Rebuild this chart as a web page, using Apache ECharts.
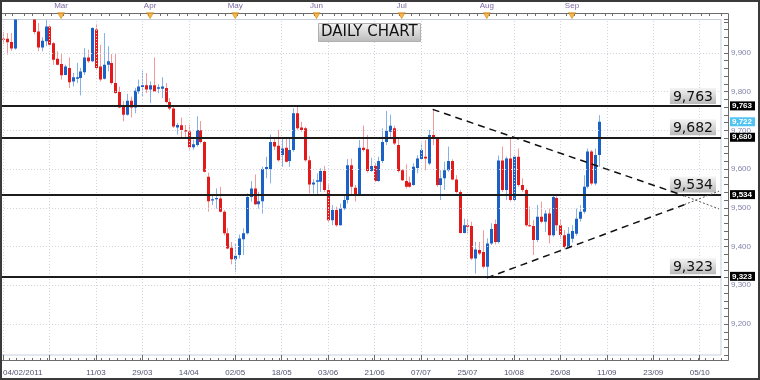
<!DOCTYPE html>
<html><head><meta charset="utf-8">
<script src="https://cdn.jsdelivr.net/npm/echarts@6/dist/echarts.min.js"></script>
<style>html,body{margin:0;padding:0;background:#fff}#c{width:760px;height:380px}</style>
</head><body><div id="c"></div>
<script>
// ---- data ----
const opens = [9936,9936,9928,9911,9995,10010,10025,10015,9990,9955,9914,9930,9968,9925,9885,9871,9843,9861,9826,9833,9835,9850,9888,9878,9960,9865,9833,9869,9874,9822,9799,9762,9740,9776,9759,9800,9812,9816,9805,9816,9807,9807,9809,9773,9756,9707,9713,9701,9697,9656,9662,9700,9670,9580,9519,9522,9524,9490,9434,9397,9367,9378,9419,9434,9528,9550,9509,9517,9600,9600,9670,9660,9636,9655,9621,9649,9744,9707,9705,9623,9560,9567,9567,9595,9546,9468,9494,9455,9498,9520,9610,9552,9534,9655,9651,9595,9608,9569,9621,9670,9696,9705,9662,9597,9569,9565,9559,9603,9626,9632,9614,9688,9679,9559,9576,9597,9621,9573,9541,9435,9455,9453,9369,9391,9386,9348,9408,9458,9412,9622,9546,9627,9520,9632,9559,9546,9455,9453,9417,9477,9464,9485,9429,9525,9455,9429,9399,9420,9433,9472,9490,9554,9645,9563,9636];
const closes = [9934,9927,9911,9995,10010,10025,10015,10000,9954,9914,9931,9968,9921,9882,9869,9842,9865,9824,9837,9837,9852,9888,9878,9964,9861,9831,9869,9878,9822,9796,9759,9740,9776,9759,9802,9813,9816,9805,9816,9800,9811,9813,9773,9756,9710,9714,9701,9697,9656,9664,9701,9670,9593,9517,9522,9525,9490,9434,9395,9367,9376,9421,9434,9528,9550,9509,9517,9600,9605,9670,9658,9623,9653,9619,9649,9744,9705,9701,9623,9560,9565,9571,9595,9546,9468,9494,9455,9498,9520,9610,9554,9534,9655,9649,9595,9608,9569,9621,9670,9698,9712,9666,9595,9571,9554,9554,9606,9627,9649,9627,9688,9679,9559,9576,9597,9621,9573,9541,9435,9455,9451,9369,9392,9382,9348,9408,9445,9412,9622,9546,9627,9520,9632,9559,9546,9455,9453,9417,9477,9464,9485,9429,9528,9455,9430,9399,9433,9440,9472,9490,9554,9645,9563,9636,9722];
const lows = [9923,9895,9905,9908,9984,10000,10005,9992,9948,9904,9904,9917,9917,9869,9868,9831,9842,9809,9813,9822,9790,9843,9874,9876,9859,9826,9831,9852,9818,9794,9757,9723,9738,9733,9744,9794,9787,9796,9770,9799,9796,9783,9770,9752,9706,9689,9682,9678,9650,9650,9658,9666,9591,9490,9507,9498,9488,9429,9393,9354,9335,9369,9378,9431,9516,9507,9498,9485,9576,9563,9649,9619,9606,9617,9606,9645,9701,9696,9619,9537,9537,9533,9541,9541,9464,9455,9451,9454,9494,9511,9533,9516,9533,9645,9591,9593,9567,9567,9615,9662,9680,9662,9591,9569,9550,9552,9557,9589,9623,9597,9610,9662,9554,9520,9546,9593,9571,9537,9434,9434,9434,9365,9330,9378,9343,9318,9404,9405,9408,9541,9520,9516,9518,9554,9541,9451,9451,9378,9412,9460,9438,9408,9425,9440,9420,9395,9395,9410,9428,9464,9485,9550,9558,9558,9606];
const highs = [9954,9951,9951,10005,10025,10035,10040,10030,9995,9977,9940,9985,9970,9928,9904,9899,9869,9888,9848,9874,9861,9912,9908,9966,9975,9921,9951,9917,9897,9897,9813,9775,9794,9787,9809,9831,9854,9848,9826,9888,9819,9837,9822,9783,9762,9719,9733,9714,9714,9676,9736,9724,9672,9591,9533,9550,9554,9494,9448,9412,9408,9431,9447,9537,9569,9586,9541,9606,9632,9689,9679,9701,9679,9679,9679,9757,9761,9722,9709,9634,9574,9589,9602,9608,9560,9507,9503,9511,9534,9626,9627,9559,9675,9712,9688,9629,9615,9632,9705,9750,9740,9712,9680,9600,9612,9580,9615,9636,9666,9675,9701,9754,9683,9597,9619,9658,9625,9584,9546,9472,9472,9464,9412,9412,9442,9421,9460,9470,9635,9658,9632,9683,9636,9653,9576,9550,9503,9468,9507,9516,9494,9498,9533,9530,9470,9442,9450,9455,9498,9507,9584,9653,9649,9653,9739];

const tickLabels = ['04/02/2011','','11/03','29/03','14/04','02/05','18/05','03/06','21/06','07/07','25/07','10/08','26/08','11/09','23/09','05/10'];
const monthLabels = ['Mar','Apr','May','Jun','Jul','Aug','Sep'];
const monthIndex = [15,38,60,81,103,125,147];
const yTicks = [9200,9300,9400,9500,9600,9700,9800,9900];
const levelValues = [9763,9682,9534,9323];
const levelLabels = ['9,763','9,682','9,534','9,323'];
const levelTags = ['9,763','9,680','9,534','9,323'];
const trendUpperDashed = [[111,9754],[176,9531]];
const trendUpperDotted = [[176,9531],[185,9497]];
const trendLowerDashed = [[125,9319],[176,9508]];
const trendLowerDotted = [[176,9508],[185,9543]];

// ---- chart ----
const N = 186;
const TICK_STEP = 12;
const categories = Array.from({length: N}, (_, i) => String(i));
const yMin = 9120, yMax = 9986;
const fmt = v => Number(v).toLocaleString('en-US');
const candleData = opens.map((o, i) => [i, o, closes[i], lows[i], highs[i]]);
const lastClose = closes[closes.length - 1];

const UP = '#1a62c8', UP_W = '#86b2ea', DN = '#e21a1a', DN_W = '#f29a9a';

function renderCandle(params, api) {
  const i = api.value(0), o = api.value(1), c = api.value(2), l = api.value(3), h = api.value(4);
  const pO = api.coord([i, o]), pC = api.coord([i, c]), pL = api.coord([i, l]), pH = api.coord([i, h]);
  const x = Math.round(pO[0]);
  const up = c >= o;
  const top = Math.min(pO[1], pC[1]), bot = Math.max(pO[1], pC[1]);
  return {type: 'group', children: [
    {type: 'line', shape: {x1: x + 0.5, y1: pH[1], x2: x + 0.5, y2: pL[1]}, style: {stroke: up ? UP_W : DN_W, lineWidth: 1}},
    {type: 'rect', shape: {x: x - 1, y: top, width: 3, height: Math.max(bot - top, 1)}, style: {fill: up ? UP : DN}}
  ]};
}

const grayGrad = {type: 'linear', x: 0, y: 0, x2: 0, y2: 1, colorStops: [{offset: 0, color: '#f4f4f4'}, {offset: 1, color: '#bababa'}]};
const FONT = 'Liberation Sans';
const tagLabel = (text, bg) => ({show: true, position: 'end', distance: 9, formatter: text, fontFamily: FONT, fontSize: 8,
  fontWeight: 'bold', color: '#fff', backgroundColor: bg, padding: [1, 3, 0, 2]});
const RULER = '#6c6c6c';

const chart = echarts.init(document.getElementById('c'));
chart.setOption({
  animation: false,
  backgroundColor: '#ffffff',
  title: {
    text: 'DAILY CHART', left: 318, top: 23, padding: [2, 3],
    backgroundColor: grayGrad, borderColor: '#b0b0b0', borderWidth: 1,
    textStyle: {fontFamily: 'DejaVu Sans', fontSize: 15, fontWeight: 'normal', color: '#111'}
  },
  grid: {left: 1, right: 39, top: 19.5, bottom: 25, show: true, borderColor: '#c6cedc', borderWidth: 1},
  xAxis: [
    {type: 'category', data: categories, position: 'bottom', offset: 5,
      axisLine: {show: true, lineStyle: {color: RULER}},
      axisTick: {show: true, inside: true, length: 2, interval: i => i % 2 === 0, lineStyle: {color: RULER}},
      axisLabel: {show: false}, splitLine: {show: false}},
    {type: 'category', data: categories, position: 'bottom', offset: 5,
      axisLine: {show: false},
      axisTick: {show: true, inside: true, alignWithLabel: true, length: 5, interval: i => i % TICK_STEP === 0, lineStyle: {color: RULER}},
      axisLabel: {show: true, interval: i => i % TICK_STEP === 0, formatter: (v, i) => tickLabels[i / TICK_STEP] || '',
        margin: 9, fontSize: 8, fontFamily: FONT, color: '#545470', alignMinLabel: 'left'},
      splitLine: {show: false}},
    {type: 'category', data: categories, position: 'top', offset: 6.5,
      axisLine: {show: true, lineStyle: {color: RULER}},
      axisTick: {show: true, inside: true, length: 3, interval: i => i % 5 === 1 || i % 5 === 3, lineStyle: {color: RULER}},
      axisLabel: {show: true, interval: i => monthIndex.includes(i), formatter: (v, i) => monthLabels[monthIndex.indexOf(i)] || '',
        margin: 3, fontSize: 8, fontFamily: FONT, color: '#7d6aa6'},
      splitLine: {show: false}}
  ],
  yAxis: {
    type: 'value', position: 'right', min: yMin, max: yMax, interval: 20, offset: 7,
    axisLine: {show: true, lineStyle: {color: RULER}},
    axisTick: {show: true, inside: true, length: 4, lineStyle: {color: RULER}},
    axisLabel: {formatter: v => (v % 100 === 0 ? fmt(v) : ''), margin: 3, fontSize: 8, fontFamily: FONT, color: '#8282aa'},
    splitLine: {show: false}
  },
  series: [
    {type: 'line', xAxisIndex: 0, data: [], silent: true, z: 1, clip: false,
      markLine: {symbol: ['none', 'none'], silent: true, animation: false, label: {show: false},
        lineStyle: {color: '#d2d2dc', type: [1, 2], width: 1},
        data: yTicks.map(v => ({yAxis: v})).concat(tickLabels.map((t, k) => ({xAxis: k * TICK_STEP})))}},
    {type: 'custom', xAxisIndex: 0, renderItem: renderCandle, data: candleData, clip: true, z: 3,
      encode: {x: 0, y: [1, 2, 3, 4]}},
    {type: 'line', xAxisIndex: 0, data: [], silent: true, z: 4, clip: false,
      markLine: {symbol: ['none', 'none'], silent: true, animation: false,
        lineStyle: {color: '#1c1c1c', type: 'solid', width: 2},
        data: levelValues.map((v, k) => ({yAxis: v, label: tagLabel(levelTags[k], '#000')}))
          .concat([{yAxis: lastClose, lineStyle: {color: 'rgba(255,255,255,0)', width: 1}, label: tagLabel(fmt(lastClose), '#52c4f2')}])}},
    {type: 'line', xAxisIndex: 0, data: [], silent: true, z: 5, clip: false,
      markLine: {symbol: ['none', 'none'], silent: true, animation: false,
        lineStyle: {color: '#1c1c1c', type: 'solid', width: 2},
        label: {show: true, position: 'insideEndTop', distance: [5, 2], fontFamily: 'DejaVu Sans', fontSize: 14, color: '#111',
          backgroundColor: grayGrad, padding: [2, 3, 0, 3]},
        data: levelValues.map((v, k) => ({yAxis: v, label: {formatter: levelLabels[k]}}))}},
    {type: 'line', xAxisIndex: 0, data: trendUpperDashed, symbol: 'none', silent: true, z: 5,
      lineStyle: {color: '#111', width: 1.5, type: [7, 5]}},
    {type: 'line', xAxisIndex: 0, data: trendLowerDashed, symbol: 'none', silent: true, z: 5,
      lineStyle: {color: '#111', width: 1.5, type: [7, 5]}},
    {type: 'line', xAxisIndex: 0, data: trendUpperDotted, symbol: 'none', silent: true, z: 5,
      lineStyle: {color: '#555', width: 1, type: [2, 2]}},
    {type: 'line', xAxisIndex: 0, data: trendLowerDotted, symbol: 'none', silent: true, z: 5,
      lineStyle: {color: '#555', width: 1, type: [2, 2]}},
    {type: 'scatter', xAxisIndex: 0, data: monthIndex.map(i => [i, yMax + 10]), symbol: 'triangle', symbolRotate: 180,
      symbolSize: [7, 6], clip: false, silent: true, z: 7,
      itemStyle: {color: '#f5a623', borderColor: '#c77a00', borderWidth: 0.6}}
  ],
  graphic: [
    {type: 'polyline', shape: {points: [[721, 13.5], [728.5, 13.5], [728.5, 360.5], [721, 360.5]]}, style: {fill: 'none', stroke: RULER, lineWidth: 1}, silent: true},
    {type: 'rect', shape: {x: 1, y: 1, width: 758, height: 378}, style: {fill: 'none', stroke: '#3a3a3a', lineWidth: 2}, z: 100, silent: true}
  ]
});
</script></body></html>
